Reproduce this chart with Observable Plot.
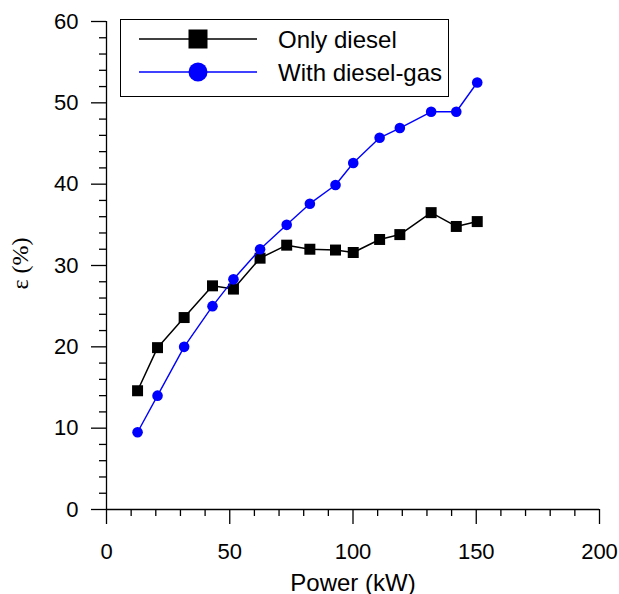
<!DOCTYPE html>
<html><head><meta charset="utf-8">
<script src="https://cdn.jsdelivr.net/npm/d3@7"></script>
<script src="https://cdn.jsdelivr.net/npm/@observablehq/plot@0.6"></script>
<style>
body{margin:0;background:#fff}
#wrap{position:relative;width:619px;height:594px}
#legend{position:absolute;left:120px;top:19px;width:329px;height:78px;box-sizing:border-box;border:1.3px solid #000;background:#fff}
#legend svg{position:absolute;left:0;top:0}
</style>
</head><body><div id="wrap"></div>
<script>
// ---- data ----
const power = [12.6, 20.7, 31.5, 43.0, 51.5, 62.3, 73.1, 82.5, 92.9, 100.1, 110.8, 119.0, 131.7, 141.9, 150.4];
const onlyDiesel = [14.6, 19.9, 23.6, 27.5, 27.1, 30.9, 32.5, 32.0, 31.9, 31.6, 33.2, 33.8, 36.5, 34.8, 35.4];
const dieselGas = [9.5, 14.0, 20.0, 25.0, 28.3, 32.0, 35.0, 37.6, 39.9, 42.6, 45.7, 46.9, 48.9, 48.9, 52.5];
const seriesNames = ["Only diesel", "With diesel-gas"];
const seriesColors = ["#000000", "#0000ff"];
const xMajorTicks = [0, 50, 100, 150, 200];
const yMajorTicks = [0, 10, 20, 30, 40, 50, 60];
const xLabel = "Power (kW)";
const yLabel = "ε (%)";

const xMinorTicks = d3.range(0, 201, 10).filter(v => v % 50 !== 0);
const yMinorTicks = d3.range(0, 61, 2).filter(v => v % 10 !== 0);

const dieselRows = power.map((p, i) => ({power: p, eff: onlyDiesel[i]}));
const gasRows = power.map((p, i) => ({power: p, eff: dieselGas[i]}));

const FONT = "'Liberation Sans', Arial, sans-serif";

const chart = Plot.plot({
  width: 619,
  height: 594,
  marginLeft: 106,
  marginRight: 20,
  marginTop: 21,
  marginBottom: 85,
  style: {fontFamily: FONT, background: "white", color: "black"},
  x: {domain: [0, 200], axis: null},
  y: {domain: [0, 60], axis: null},
  marks: [
    Plot.ruleY([0], {stroke: "black", strokeWidth: 1.3}),
    Plot.ruleX([0], {stroke: "black", strokeWidth: 1.3}),
    Plot.axisX({ticks: xMajorTicks, tickSize: 15, tickFormat: () => "", label: null, strokeWidth: 1.3}),
    Plot.axisX({ticks: xMinorTicks, tickSize: 7, tickFormat: () => "", label: null, strokeWidth: 1.3}),
    Plot.axisY({ticks: yMajorTicks, tickSize: 15, tickFormat: () => "", label: null, strokeWidth: 1.3}),
    Plot.axisY({ticks: yMinorTicks, tickSize: 7, tickFormat: () => "", label: null, strokeWidth: 1.3}),
    Plot.axisX({ticks: xMajorTicks, tickSize: 0, tickPadding: 34, label: null, fontSize: 22, fill: "black"}),
    Plot.axisY({ticks: yMajorTicks, tickSize: 0, tickPadding: 28, label: null, fontSize: 22, fill: "black"}),
    Plot.text([xLabel], {frameAnchor: "bottom", lineAnchor: "bottom", dy: 81, fontSize: 24, fill: "black"}),
    Plot.text([yLabel], {frameAnchor: "left", rotate: -90, dx: -86, dy: 24, fontSize: 24, fill: "black", fontFamily: "'Liberation Serif', 'Times New Roman', serif"}),
    Plot.line(dieselRows, {x: "power", y: "eff", stroke: seriesColors[0], strokeWidth: 1.5}),
    Plot.dot(dieselRows, {x: "power", y: "eff", symbol: "square", r: 6.2, fill: seriesColors[0], stroke: "none"}),
    Plot.line(gasRows, {x: "power", y: "eff", stroke: seriesColors[1], strokeWidth: 1.4}),
    Plot.dot(gasRows, {x: "power", y: "eff", symbol: "circle", r: 5.3, fill: seriesColors[1], stroke: "none"})
  ]
});

const wrap = document.getElementById("wrap");
wrap.appendChild(chart);

// legend (inside plot area, top-left)
const legend = document.createElement("div");
legend.id = "legend";
const ns = "http://www.w3.org/2000/svg";
const lsvg = document.createElementNS(ns, "svg");
lsvg.setAttribute("width", 327);
lsvg.setAttribute("height", 76);
const rowY = [19, 52];
seriesNames.forEach((name, i) => {
  const y = rowY[i];
  const line = document.createElementNS(ns, "line");
  line.setAttribute("x1", 18); line.setAttribute("x2", 136);
  line.setAttribute("y1", y); line.setAttribute("y2", y);
  line.setAttribute("stroke", seriesColors[i]);
  line.setAttribute("stroke-width", i === 0 ? 1.5 : 1.4);
  lsvg.appendChild(line);
  let m;
  if (i === 0) {
    m = document.createElementNS(ns, "rect");
    m.setAttribute("x", 77 - 9.5); m.setAttribute("y", y - 9.5);
    m.setAttribute("width", 19); m.setAttribute("height", 19);
  } else {
    m = document.createElementNS(ns, "circle");
    m.setAttribute("cx", 77); m.setAttribute("cy", y); m.setAttribute("r", 9.5);
  }
  m.setAttribute("fill", seriesColors[i]);
  lsvg.appendChild(m);
  const t = document.createElementNS(ns, "text");
  t.setAttribute("x", 157); t.setAttribute("y", y);
  t.setAttribute("dy", "0.36em");
  t.setAttribute("font-family", FONT);
  t.setAttribute("font-size", 24);
  t.setAttribute("fill", "black");
  t.textContent = name;
  lsvg.appendChild(t);
});
legend.appendChild(lsvg);
wrap.appendChild(legend);
</script>
</body></html>
